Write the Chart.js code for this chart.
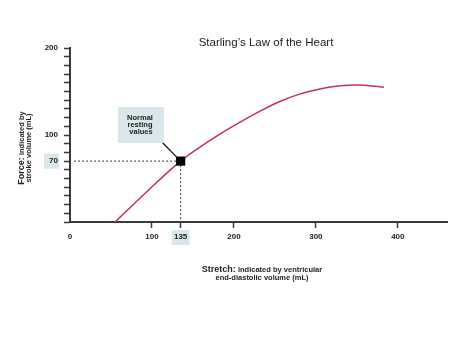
<!DOCTYPE html>
<html>
<head>
<meta charset="utf-8">
<script src="https://cdn.jsdelivr.net/npm/chart.js@4/dist/chart.umd.min.js"></script>
<style>
html, body { margin: 0; padding: 0; background: #fff; }
#wrap { width: 474px; height: 355px; }
</style>
</head>
<body>
<div id="wrap"><canvas id="chart" width="474" height="355"></canvas></div>
<script>
// Frank-Starling curve
const volume = [55, 95, 135, 183, 207, 232, 256, 280, 305, 330, 350, 383];
const force = [0, 36, 70, 101, 114.5, 127.5, 138.5, 147, 153, 156.5, 157.5, 155];
const restingVolume = 135;
const restingForce = 70;
const xTickValues = [0, 100, 135, 200, 300, 400];
const yLabelValues = [70, 100, 200];

const FONT = '"Liberation Sans", Arial, Helvetica, sans-serif';
const axisColor = '#3a3a3a';
const curveColor = '#c3314e';
const boxBlue = '#d9e7ea';

const decor = {
    id: 'decor',
    beforeDraw(chart) {
        const { ctx, scales: { x, y } } = chart;
        ctx.save();
        ctx.fillStyle = boxBlue;
        const py = y.getPixelForValue(restingForce);
        ctx.fillRect(44, py - 7.5, 15, 15);
        const px = x.getPixelForValue(restingVolume);
        ctx.fillRect(px - 9, 230, 18, 15);
        ctx.restore();
    },
    afterDraw(chart) {
        const { ctx, scales: { x, y } } = chart;
        ctx.save();

        // title
        ctx.fillStyle = '#222';
        ctx.font = '11.5px ' + FONT;
        ctx.textAlign = 'center';
        ctx.textBaseline = 'alphabetic';
        ctx.fillText('Starling\u2019s Law of the Heart', 266, 46);

        // x axis title
        drawMixed(ctx, 262, 272, 'Stretch:', 'bold 9px ' + FONT, ' indicated by ventricular', 'bold 7.5px ' + FONT);
        ctx.font = 'bold 7.5px ' + FONT;
        ctx.textAlign = 'center';
        ctx.fillText('end-diastolic volume (mL)', 262, 280);

        // y axis title
        ctx.save();
        ctx.translate(24, 148);
        ctx.rotate(-Math.PI / 2);
        drawMixed(ctx, 0, 0, 'Force:', 'bold 9px ' + FONT, ' indicated by', 'bold 7.5px ' + FONT);
        ctx.font = 'bold 7.5px ' + FONT;
        ctx.textAlign = 'center';
        ctx.fillText('stroke volume (mL)', 0, 7);
        ctx.restore();

        // annotation box + leader
        const px = x.getPixelForValue(restingVolume);
        const py = y.getPixelForValue(restingForce);
        ctx.strokeStyle = '#111';
        ctx.lineWidth = 1.3;
        ctx.beginPath();
        ctx.moveTo(158, 138);
        ctx.lineTo(px - 3, py - 3);
        ctx.stroke();
        ctx.fillStyle = boxBlue;
        ctx.fillRect(118, 107, 46, 36);
        ctx.fillStyle = '#222';
        ctx.font = 'bold 7.5px ' + FONT;
        ctx.textAlign = 'center';
        ctx.fillText('Normal', 140, 120);
        ctx.fillText('resting', 140, 127);
        ctx.fillText('values', 141, 134);
        ctx.restore();
    }
};

function drawMixed(ctx, cx, yb, a, fa, b, fb) {
    ctx.font = fa;
    const wa = ctx.measureText(a).width;
    ctx.font = fb;
    const wb = ctx.measureText(b).width;
    const left = cx - (wa + wb) / 2;
    ctx.textAlign = 'left';
    ctx.fillStyle = '#222';
    ctx.font = fa;
    ctx.fillText(a, left, yb);
    ctx.font = fb;
    ctx.fillText(b, left + wa, yb);
}

const curve = volume.map((v, i) => ({ x: v, y: force[i] }));

new Chart(document.getElementById('chart'), {
    type: 'scatter',
    data: {
        datasets: [
            {
                // resting point marker, listed first so it sits on top
                data: [{ x: restingVolume, y: restingForce }],
                pointStyle: 'rect',
                pointRadius: 6.5,
                backgroundColor: '#000',
                borderColor: '#000',
                borderWidth: 0
            },
            {
                data: curve,
                showLine: true,
                borderColor: curveColor,
                borderWidth: 1.5,
                pointRadius: 0,
                cubicInterpolationMode: 'monotone'
            },
            {
                data: [{ x: 5, y: restingForce }, { x: restingVolume, y: restingForce }],
                showLine: true,
                borderColor: '#333',
                borderWidth: 1,
                borderDash: [2, 2],
                pointRadius: 0
            },
            {
                data: [{ x: restingVolume, y: restingForce }, { x: restingVolume, y: 0 }],
                showLine: true,
                borderColor: '#333',
                borderWidth: 1,
                borderDash: [2, 2],
                pointRadius: 0
            }
        ]
    },
    options: {
        responsive: false,
        animation: false,
        layout: { padding: { top: 48, right: 27, left: 0, bottom: 0 } },
        plugins: { legend: { display: false }, tooltip: { enabled: false } },
        scales: {
            x: {
                type: 'linear',
                min: 0,
                max: 460,
                afterBuildTicks: s => { s.ticks = xTickValues.map(v => ({ value: v })); },
                afterFit: s => { s.height = 133; },
                border: { color: axisColor, width: 2 },
                grid: {
                    drawOnChartArea: false,
                    tickLength: 6,
                    tickWidth: 1.5,
                    tickColor: c => (c.tick && c.tick.value === 0 ? 'rgba(0,0,0,0)' : axisColor)
                },
                ticks: {
                    autoSkip: false,
                    maxRotation: 0,
                    padding: 4,
                    color: '#222',
                    font: { family: FONT, size: 8, weight: 'bold' }
                }
            },
            y: {
                type: 'linear',
                min: 0,
                max: 200,
                afterBuildTicks: s => {
                    const t = [];
                    for (let v = 0; v <= 200; v += 10) t.push({ value: v });
                    s.ticks = t;
                },
                afterFit: s => { s.width = 70; },
                border: { color: axisColor, width: 2 },
                grid: {
                    drawOnChartArea: false,
                    tickLength: 6,
                    tickWidth: 1.5,
                    tickColor: axisColor
                },
                ticks: {
                    autoSkip: false,
                    padding: 6,
                    color: '#222',
                    font: { family: FONT, size: 8, weight: 'bold' },
                    callback: v => (yLabelValues.includes(v) ? String(v) : '')
                }
            }
        }
    },
    plugins: [decor]
});
</script>
</body>
</html>
